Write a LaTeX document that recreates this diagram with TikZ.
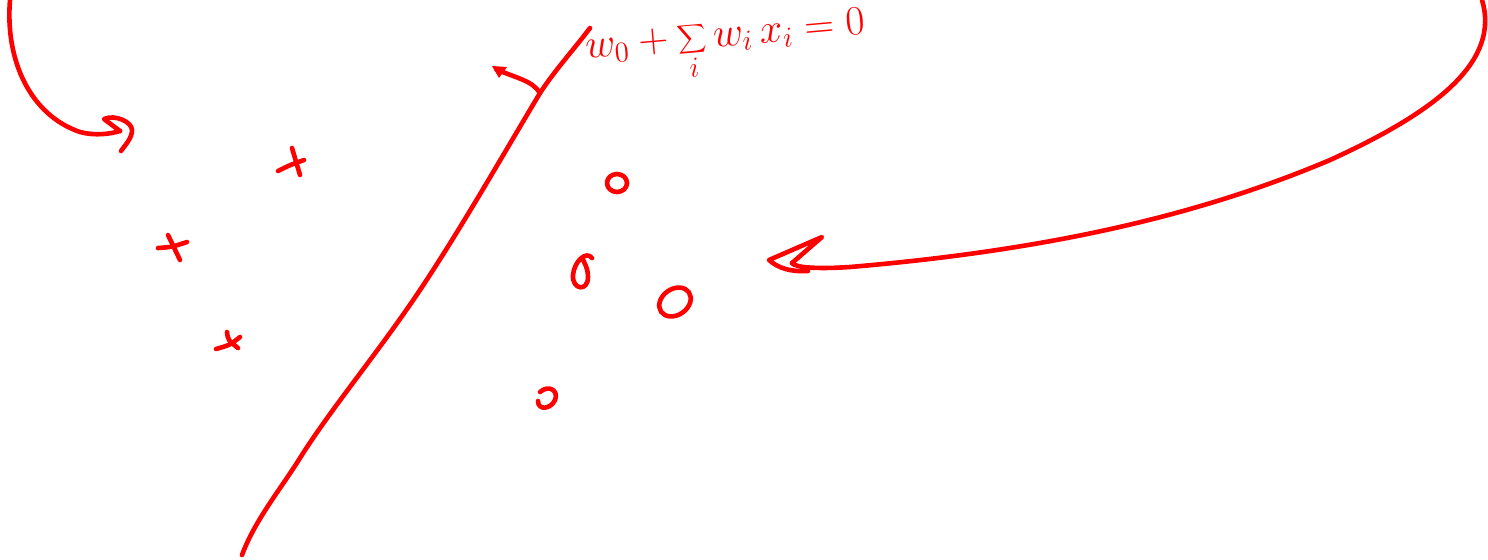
\documentclass[tikz,border=0pt]{standalone}
\usetikzlibrary{arrows.meta}
\definecolor{ink}{RGB}{255,0,0}
\tikzset{
  pen/.style={draw=ink, line width=2.3pt, line cap=round, line join=round},
}
\begin{document}
\begin{tikzpicture}[x=0.5pt, y=-0.5pt]
\useasboundingbox (0,0) rectangle (1488,559);

% decision boundary
\coordinate (lb) at (242,555);
\coordinate (lt) at (590,28);
\coordinate (nb) at (540,93);
\draw[pen] (lb) .. controls (255,520) and (280,490) .. (300,458)
  .. controls (330,410) and (380,350) .. (420,290)
  .. controls (460,230) and (500,160) .. (nb)
  .. controls (555,70) and (575,48) .. (lt);

% normal vector
\coordinate (nt) at (496,69);
\draw[pen] (nb) .. controls (532,80) and (515,78) .. (nt);
\fill[ink] (492,66) -- (507,67) -- (499,78) -- cycle;

% label
\node[text=ink, anchor=west, rotate=5, inner sep=0pt] (eq) at (586,60)
  {\fontsize{21}{24}\selectfont $\displaystyle w_0+\sum_i w_i\,x_i=0$};

% crosses
\draw[pen] (292,148) -- (300,175);
\draw[pen] (278,171) .. controls (290,165) .. (304,160);
\draw[pen] (168,235) -- (180,260);
\draw[pen] (158,248) .. controls (172,247) .. (187,242);
\draw[pen] (227,332) .. controls (228,340) .. (238,348);
\draw[pen] (216,349) .. controls (230,345) .. (240,337);

% circles
\draw[pen] (617,183) ellipse [x radius=10, y radius=9];
\draw[pen] (592,258) .. controls (586,250) and (574,262) .. (573,275)
  .. controls (572,290) and (588,292) .. (588,277)
  .. controls (588,268) and (584,262) .. (582,258);
\draw[pen, rotate around={35:(675,302)}] (675,302) ellipse [x radius=17, y radius=13];
\draw[pen] (540,392) .. controls (549,384) and (559,391) .. (555,400)
  .. controls (551,409) and (538,411) .. (538,401);

% left curved arrow
\coordinate (ls) at (10,0);
\coordinate (le) at (120,131);
\draw[pen] (ls) .. controls (5,60) and (30,115) .. (80,132)
  .. controls (95,136) and (110,134) .. (le);
\draw[pen] (le) -- (104,119) .. controls (115,114) and (132,122) .. (132,130)
  .. controls (132,138) and (126,144) .. (121,151);

% right curved arrow
\coordinate (rs) at (1482,0);
\coordinate (re) at (792,263);
\draw[pen] (rs) .. controls (1500,60) and (1440,110) .. (1330,160)
  .. controls (1200,215) and (1050,250) .. (850,267)
  .. controls (820,269) and (795,268) .. (re);
\draw[pen] (re) -- (822,237) -- (769,260) .. controls (778,268) and (790,272) .. (808,271);
\end{tikzpicture}
\end{document}
